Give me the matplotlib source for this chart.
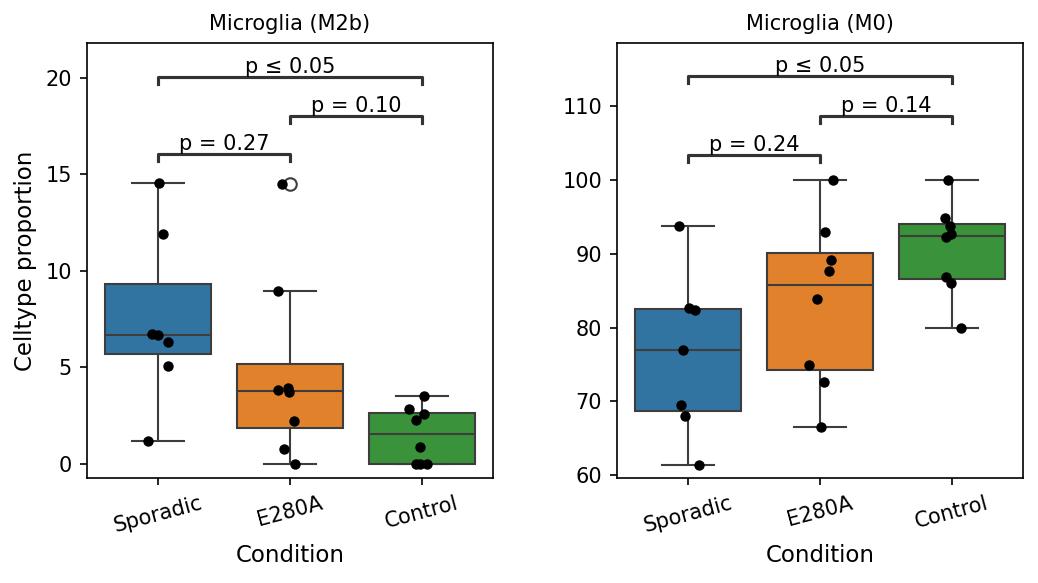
import numpy as np
import pandas as pd
import matplotlib
matplotlib.use("Agg")
import matplotlib.pyplot as plt
import seaborn as sns

# categories
conditions = ["Sporadic", "E280A", "Control"]

# Microglia (M2b) values
m2b_sporadic = [14.56, 11.92, 6.74, 6.68, 6.30, 5.06, 1.19]
m2b_e280a = [14.50, 8.96, 3.92, 3.83, 3.71, 2.21, 0.76, 0.0]
m2b_control = [3.52, 2.83, 2.59, 2.28, 0.87, 0.0, 0.0, 0.0]

# Microglia (M0) values
m0_sporadic = [93.78, 82.66, 82.40, 76.94, 69.48, 68.04, 61.44]
m0_e280a = [100.0, 92.93, 89.17, 87.68, 83.85, 74.90, 72.60, 66.55]
m0_control = [100.0, 94.82, 93.78, 92.70, 92.25, 86.83, 86.00, 79.92]

# p-value brackets: (group a, group b, label)
m2b_pvals = [("Sporadic", "E280A", "p = 0.27"),
             ("E280A", "Control", "p = 0.10"),
             ("Sporadic", "Control", "p \u2264 0.05")]
m0_pvals = [("Sporadic", "E280A", "p = 0.24"),
            ("E280A", "Control", "p = 0.14"),
            ("Sporadic", "Control", "p \u2264 0.05")]


def make_df(spor, e280a, ctrl):
    rows = []
    for name, vals in zip(conditions, [spor, e280a, ctrl]):
        for v in vals:
            rows.append({"Condition": name, "value": v})
    return pd.DataFrame(rows)


df_m2b = make_df(m2b_sporadic, m2b_e280a, m2b_control)
df_m0 = make_df(m0_sporadic, m0_e280a, m0_control)

palette = sns.color_palette("tab10", 3)

fig = plt.figure(figsize=(1038 / 150, 583 / 150), dpi=150)
ax1 = fig.add_axes([0.0835, 0.1796, 0.3917, 0.7472])
ax2 = fig.add_axes([0.5941, 0.1796, 0.3917, 0.7472])

np.random.seed(3)


def draw(ax, df, title, pvals, ylim, levels):
    sns.boxplot(data=df, x="Condition", y="value", hue="Condition",
                order=conditions, hue_order=conditions, palette=palette,
                legend=False, ax=ax)
    sns.stripplot(data=df, x="Condition", y="value", order=conditions,
                  color="black", size=5, jitter=True, ax=ax)
    ax.set_ylim(*ylim)
    tip = 0.016 * (ylim[1] - ylim[0])
    for (a, b, label), y in zip(pvals, levels):
        x1 = conditions.index(a)
        x2 = conditions.index(b)
        ax.plot([x1, x1, x2, x2], [y - tip, y, y, y - tip],
                color="0.2", lw=1.5, clip_on=False)
        ax.text((x1 + x2) / 2, y, label, ha="center", va="bottom",
                fontsize=10)
    ax.set_title(title, fontsize=10)
    ax.set_xlabel("Condition", fontsize=11)
    ax.tick_params(axis="x", rotation=15)


draw(ax1, df_m2b, "Microglia (M2b)", m2b_pvals, (-0.74, 21.82),
     [16.05, 18.04, 20.06])
ax1.set_ylabel("Celltype proportion", fontsize=11)
ax1.set_yticks([0, 5, 10, 15, 20])

draw(ax2, df_m0, "Microglia (M0)", m0_pvals, (59.59, 118.6),
     [103.4, 108.65, 114.07])
ax2.set_ylabel("")
ax2.set_yticks([60, 70, 80, 90, 100, 110])

fig.savefig("out.png", dpi=150)
